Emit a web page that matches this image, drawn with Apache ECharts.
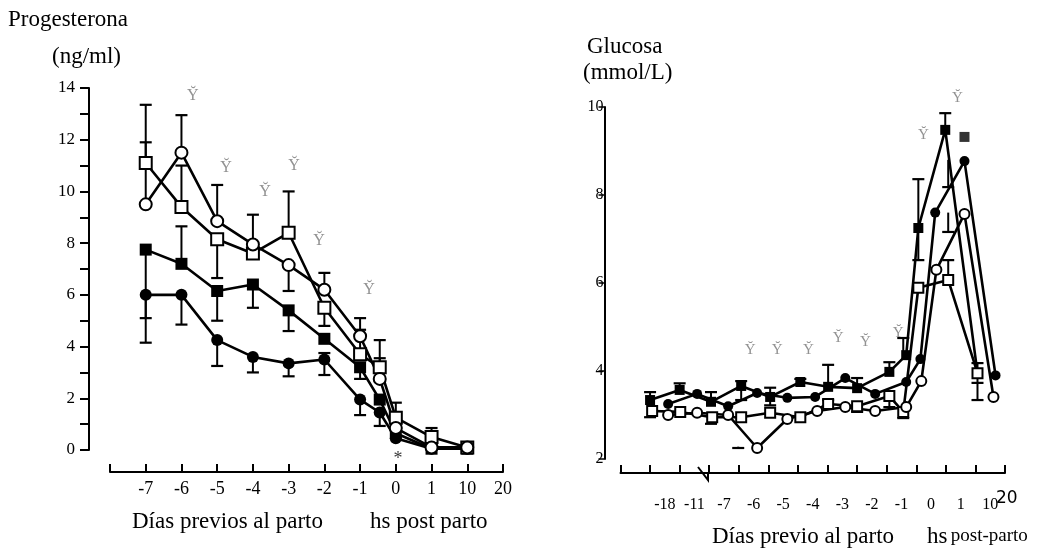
<!DOCTYPE html>
<html>
<head>
<meta charset="utf-8">
<title>Progesterona y glucosa periparto</title>
<script src="https://cdn.jsdelivr.net/npm/echarts@6/dist/echarts.min.js"></script>
<style>
html,body{margin:0;padding:0;background:#fff}
#chart{width:1048px;height:548px}
</style>
</head>
<body>
<div id="chart"></div>
<script>
// eje x izquierdo: posición -> rótulo
const xLabelsL = ['', '-7', '-6', '-5', '-4', '-3', '-2', '-1', '0', '1', '10', '20'];
// eje x derecho: rótulos centrados entre marcas
const xLabelsR = ['', '-18', '-11', '-7', '-6', '-5', '-4', '-3', '-2', '-1', '0', '1', '10'];

// Progesterona (ng/ml) [posición, valor]
const progSqOpen = [[1, 11.1], [2, 9.4], [3, 8.15], [4, 7.6], [5, 8.4], [6, 5.5], [7, 3.7], [7.55, 3.2], [8, 1.25], [9, 0.5], [10, 0.1]];
const progCiOpen = [[1, 9.5], [2, 11.5], [3, 8.85], [4, 7.95], [5, 7.15], [6, 6.2], [7, 4.4], [7.55, 2.75], [8, 0.85], [9, 0.1], [10, 0.1]];
const progSqFill = [[1, 7.75], [2, 7.2], [3, 6.15], [4, 6.4], [5, 5.4], [6, 4.3], [7, 3.2], [7.55, 1.95], [8, 0.65], [9, 0.05], [10, 0.05]];
const progCiFill = [[1, 6.0], [2, 6.0], [3, 4.25], [4, 3.6], [5, 3.35], [6, 3.5], [7, 1.95], [7.55, 1.45], [8, 0.45], [9, 0.05], [10, 0.05]];
// barras de error [posición, desde, hasta]
const progErr = [
  [1, 11.1, 13.35], [1, 9.5, 11.9], [1, 6.0, 5.1], [1, 7.75, 4.15],
  [2, 11.5, 12.95], [2, 9.4, 11.0], [2, 7.2, 8.65], [2, 6.0, 4.85],
  [3, 8.85, 10.25], [3, 8.15, 6.65], [3, 6.15, 5.0], [3, 4.25, 3.25],
  [4, 7.95, 9.1], [4, 6.4, 5.5], [4, 3.6, 3.0],
  [5, 8.4, 10.0], [5, 7.15, 6.15], [5, 5.4, 4.6], [5, 3.35, 2.85],
  [6, 6.2, 6.85], [6, 5.5, 4.8], [6, 3.5, 3.75], [6, 3.5, 2.9],
  [7, 4.4, 5.1], [7, 3.7, 4.65], [7, 3.2, 2.75], [7, 1.95, 1.35],
  [7.55, 3.2, 4.25], [7.55, 2.75, 3.55], [7.55, 1.45, 0.93],
  [8, 1.25, 1.83], [9, 0.5, 0.85]
];
const progMarks = [[2.32, 13.7], [3.25, 10.9], [4.34, 10.0], [5.15, 11.0], [5.85, 8.1], [7.25, 6.2]];
const progStar = [[8.06, -0.35]];

// Glucosa (mmol/L) [posición, valor]
const gluSqFill = [[0, 3.34], [1, 3.57], [2.06, 3.3], [3.08, 3.66], [4.06, 3.41], [5.08, 3.75], [6.02, 3.64], [7, 3.61], [8.09, 3.98], [8.66, 4.36], [9.07, 7.25], [9.98, 9.48], [11.07, 3.95]];
const gluSqFillLone = [[10.63, 9.32]];
const gluSqOpen = [[0.07, 3.09], [1.02, 3.07], [2.1, 2.95], [3.08, 2.95], [4.06, 3.05], [5.08, 2.95], [6.02, 3.25], [7, 3.2], [8.09, 3.43], [8.56, 3.07], [9.07, 5.89], [10.08, 6.07], [11.07, 3.95]];
const gluCiFill = [[0.61, 3.25], [1.59, 3.48], [2.64, 3.2], [3.62, 3.5], [4.64, 3.39], [5.58, 3.41], [6.6, 3.84], [7.61, 3.48], [8.66, 3.75], [9.14, 4.27], [9.64, 7.6], [10.63, 8.77], [11.68, 3.9]];
const gluCiOpen = [[0.61, 3.0], [1.59, 3.05], [2.64, 3.0], [3.62, 2.25], [4.64, 2.91], [5.65, 3.09], [6.6, 3.18], [7.61, 3.09], [8.66, 3.18], [9.17, 3.77], [9.68, 6.3], [10.63, 7.57], [11.61, 3.41]];
const gluErr = [
  [0, 3.34, 3.52], [0, 3.09, 2.95], [1, 3.57, 3.72], [2.06, 3.3, 3.52], [2.06, 2.95, 2.8],
  [3.08, 3.66, 3.77], [3.08, 3.66, 3.34], [2.98, 2.28, 2.25], [4.06, 3.41, 3.62], [4.06, 3.41, 3.22],
  [5.08, 3.75, 3.82], [6.02, 3.64, 4.14], [6.02, 3.25, 3.34], [7, 3.61, 3.84], [7, 3.2, 3.07],
  [8.09, 3.98, 4.2], [8.09, 3.43, 3.18], [8.56, 4.36, 4.75], [8.56, 3.07, 2.93],
  [9.07, 7.25, 8.36], [9.07, 7.25, 6.52], [9.98, 9.48, 9.86],
  [10.08, 8.8, 8.18], [10.08, 7.6, 7.16], [10.08, 6.07, 6.52],
  [11.07, 3.95, 4.18], [11.07, 3.95, 3.34], [11.07, 3.73, 3.73]
];
const gluMarks = [[3.38, 4.48], [4.3, 4.48], [5.35, 4.48], [6.36, 4.75], [7.28, 4.66], [8.39, 4.86], [9.24, 9.36], [10.39, 10.2]];

const serif = '"Liberation Serif", "DejaVu Serif", serif';

function errRender(params, api) {
  const x = api.value(0)
  const p1 = api.coord([x, api.value(1)])
  const p2 = api.coord([x, api.value(2)])
  const w = 6
  return {
    type: 'group',
    children: [
      {type: 'line', shape: {x1: p1[0], y1: p1[1], x2: p2[0], y2: p2[1]}, style: {stroke: '#000', lineWidth: 2}},
      {type: 'line', shape: {x1: p2[0] - w, y1: p2[1], x2: p2[0] + w, y2: p2[1]}, style: {stroke: '#000', lineWidth: 2.2}}
    ]
  }
}

function lineSeries(name, data, symbol, filled, gi, size) {
  return {
    name: name,
    type: 'line',
    xAxisIndex: gi === 0 ? 0 : 1,
    yAxisIndex: gi,
    data: data,
    symbol: symbol,
    symbolSize: size,
    showAllSymbol: true,
    clip: false,
    z: filled ? 3 : 4,
    lineStyle: {color: '#000', width: 2.6},
    itemStyle: {color: filled ? '#000' : '#fff', borderColor: '#000', borderWidth: filled ? 0 : 2},
    emphasis: {disabled: true}
  }
}

function marksSeries(data, text, xi, yi, size, color) {
  return {
    type: 'scatter',
    xAxisIndex: xi,
    yAxisIndex: yi,
    data: data,
    symbolSize: 1,
    clip: false,
    itemStyle: {color: 'rgba(0,0,0,0)'},
    label: {show: true, position: 'inside', formatter: () => text, color: color, fontSize: size, fontFamily: serif},
    silent: true
  }
}

const chart = echarts.init(document.getElementById('chart'))

const axisLine = {show: true, onZero: false, lineStyle: {color: '#000', width: 2}}

const option = {
  animation: false,
  backgroundColor: '#fff',
  grid: [
    {left: 110, right: 545, top: 88, bottom: 98},
    {left: 620.5, right: 43, top: 107, bottom: 89}
  ],
  xAxis: [
    {
      gridIndex: 0, type: 'value', min: 0, max: 11, interval: 1, offset: 22, position: 'bottom',
      axisLine: axisLine,
      axisTick: {show: true, inside: true, length: 8, lineStyle: {color: '#000', width: 2}},
      axisLabel: {color: '#000', fontSize: 18, fontFamily: serif, margin: 8, showMaxLabel: true, showMinLabel: true,
        formatter: v => xLabelsL[v] || ''},
      splitLine: {show: false}
    },
    {
      gridIndex: 1, type: 'value', min: -1, max: 12, interval: 1, offset: 14, position: 'bottom',
      axisLine: axisLine,
      axisTick: {show: true, length: 8, inside: true, lineStyle: {color: '#000', width: 2}},
      axisLabel: {show: false},
      splitLine: {show: false}
    },
    {
      gridIndex: 1, type: 'category', data: xLabelsR, boundaryGap: true, offset: 14, position: 'bottom',
      axisLine: {show: false, onZero: false}, axisTick: {show: false},
      axisLabel: {color: '#000', fontSize: 16, fontFamily: serif, margin: 24, interval: 0}
    }
  ],
  yAxis: [
    {
      gridIndex: 0, type: 'value', min: 0, max: 14, interval: 1, offset: 21, position: 'left',
      axisLine: axisLine,
      axisTick: {show: true, length: 9, lineStyle: {color: '#000', width: 2}},
      axisLabel: {color: '#000', fontSize: 17, fontFamily: serif, margin: 14,
        formatter: v => (v % 2 === 0 ? String(v) : '')},
      splitLine: {show: false}
    },
    {
      gridIndex: 1, type: 'value', min: 2, max: 10, interval: 2, offset: 16, position: 'left',
      axisLine: axisLine,
      axisTick: {show: true, length: 6, lineStyle: {color: '#000', width: 1.5}},
      axisLabel: {color: '#000', fontSize: 16, fontFamily: serif, margin: 1},
      splitLine: {show: false}
    }
  ],
  graphic: [
    {type: 'text', left: 8, top: 8, style: {text: 'Progesterona', font: '23px ' + serif, fill: '#000'}},
    {type: 'text', left: 52, top: 45, style: {text: '(ng/ml)', font: '23px ' + serif, fill: '#000'}},
    {type: 'text', left: 132, top: 510, style: {text: 'Días previos al parto', font: '23px ' + serif, fill: '#000'}},
    {type: 'text', left: 370, top: 510, style: {text: 'hs post parto', font: '23px ' + serif, fill: '#000'}},
    {type: 'text', left: 587, top: 35, style: {text: 'Glucosa', font: '23px ' + serif, fill: '#000'}},
    {type: 'text', left: 583, top: 61, style: {text: '(mmol/L)', font: '23px ' + serif, fill: '#000'}},
    {type: 'text', left: 712, top: 525, style: {text: 'Días previo al parto', font: '23px ' + serif, fill: '#000'}},
    {type: 'text', left: 927, top: 525, style: {
      text: '{a|hs} {b|post-parto}',
      rich: {a: {font: '23px ' + serif, fill: '#000'}, b: {font: '19px ' + serif, fill: '#000'}}}},
    {type: 'text', left: 996, top: 490, style: {text: '20', font: '17px "DejaVu Sans", sans-serif', fill: '#000'}},
    {type: 'polyline', shape: {points: [[698, 467], [708, 480], [708, 472]]}, style: {stroke: '#000', lineWidth: 2, fill: null}}
  ],
  series: [
    {type: 'custom', xAxisIndex: 0, yAxisIndex: 0, data: progErr, renderItem: errRender, encode: {x: 0, y: [1, 2]}, z: 2, clip: false, silent: true},
    lineSeries('□', progSqOpen, 'rect', false, 0, 12),
    lineSeries('○', progCiOpen, 'circle', false, 0, 12),
    lineSeries('■', progSqFill, 'rect', true, 0, 12),
    lineSeries('●', progCiFill, 'circle', true, 0, 12),
    marksSeries(progMarks, 'Y\u0306', 0, 0, 16, '#777'),
    marksSeries(progStar, '*', 0, 0, 18, '#000'),

    {type: 'custom', xAxisIndex: 1, yAxisIndex: 1, data: gluErr, renderItem: errRender, encode: {x: 0, y: [1, 2]}, z: 2, clip: false, silent: true},
    lineSeries('□', gluSqOpen, 'rect', false, 1, 10),
    lineSeries('○', gluCiOpen, 'circle', false, 1, 10),
    lineSeries('■', gluSqFill, 'rect', true, 1, 10),
    lineSeries('●', gluCiFill, 'circle', true, 1, 10),
    {type: 'scatter', xAxisIndex: 1, yAxisIndex: 1, data: gluSqFillLone, symbol: 'rect', symbolSize: 10, clip: false, itemStyle: {color: '#000'}, silent: true},
    marksSeries(gluMarks, 'Y\u0306', 1, 1, 15, '#777')
  ]
}

chart.setOption(option)
</script>
</body>
</html>
